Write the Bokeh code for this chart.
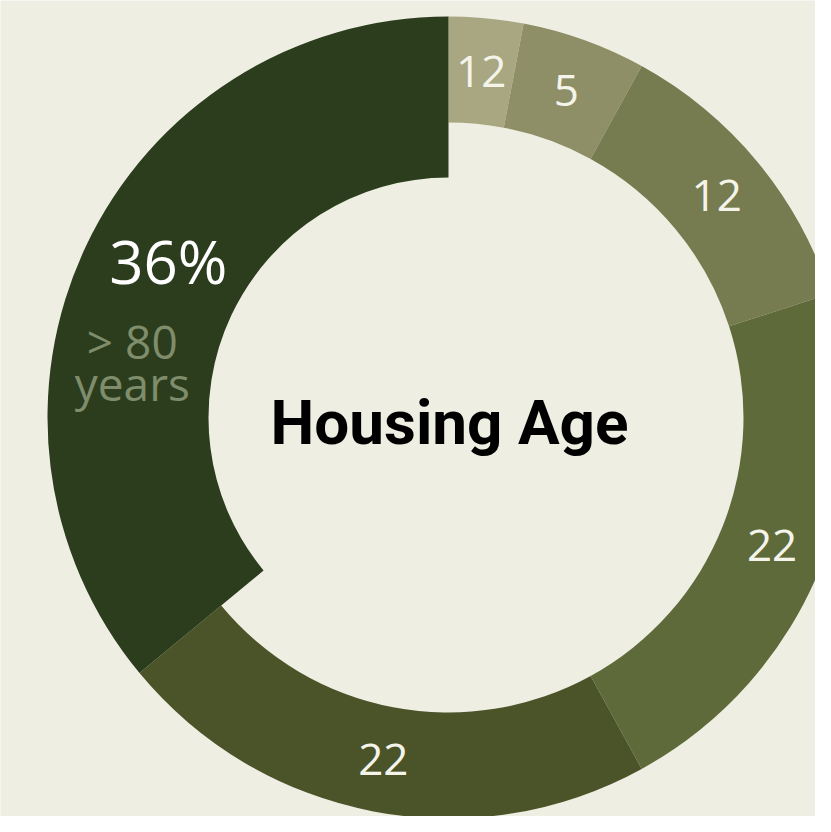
import math
from bokeh.plotting import figure
from bokeh.models import ColumnDataSource, Range1d
from bokeh.core.properties import value
from bokeh.embed import file_html
from bokeh.resources import INLINE

# ---- data ----
labels = ["12", "5", "12", "22", "22", "36%"]
shares = [3, 5, 12, 22, 22, 36]
colors = ["#a8a782", "#8e8f67", "#767c50", "#5f6a3b", "#4b5329", "#2b3d1d"]
title = "Housing Age"
highlight_sub = ["> 80", "years"]

BG = "#eeeee2"
W, H = 815, 816
CX, CY = 448, 417  # pixel position of donut centre inside the figure

p = figure(width=W, height=H, output_backend="svg", toolbar_location=None,
           x_range=Range1d(-CX, W - CX), y_range=Range1d(CY - H, CY),
           min_border=0, outline_line_color=None,
           background_fill_color=BG, border_fill_color=BG)
p.axis.visible = False
p.grid.visible = False

OUTER = 401
INNER = 295
INNER_HL = 240

total = sum(shares)
cum = 0.0
starts, ends, inners, mids = [], [], [], []
for i, s in enumerate(shares):
    t0 = cum / total * 2 * math.pi
    cum += s
    t1 = cum / total * 2 * math.pi
    starts.append(math.pi / 2 - t0)
    ends.append(math.pi / 2 - t1)
    mids.append((t0 + t1) / 2)
    inners.append(INNER_HL if i == len(shares) - 1 else INNER)

src = ColumnDataSource(dict(start=starts, end=ends, inner=inners, color=colors))
p.annular_wedge(x=0, y=0, inner_radius="inner", outer_radius=OUTER,
                start_angle="start", end_angle="end", direction="clock",
                fill_color="color", line_color=None, source=src)

# slice labels (all but highlight)
LR = 348
lx = [LR * math.sin(m) for m in mids[:-1]]
ly = [LR * math.cos(m) for m in mids[:-1]]
p.text(x=lx, y=ly, text=labels[:-1], text_color="#f4f4ea",
       text_font=value("Open Sans"), text_font_size="44px",
       text_align="center", text_baseline="middle")

# highlight label
hm = mids[-1] + math.radians(4)
hx = 321 * math.sin(hm)
hy = 321 * math.cos(hm)
p.text(x=[hx], y=[hy], text=[labels[-1]], text_color="#ffffff",
       text_font=value("Open Sans"), text_font_size="60px",
       text_align="center", text_baseline="middle")
p.text(x=[hx - 36, hx - 36], y=[hy - 80, hy - 122], text=highlight_sub,
       text_color="#7f8d6c", text_font=value("Open Sans"),
       text_font_size="46px", text_align="center", text_baseline="middle")

# centre title
p.text(x=[1], y=[-5], text=[title], text_color="#000000",
       text_font=value("Roboto"), text_font_style="bold",
       text_font_size="62px", text_align="center", text_baseline="alphabetic")

html = file_html(p, INLINE)
html = html.replace("<body>", '<body style="background:%s;margin:8px">' % BG, 1)
open("out.html", "w").write(html)
